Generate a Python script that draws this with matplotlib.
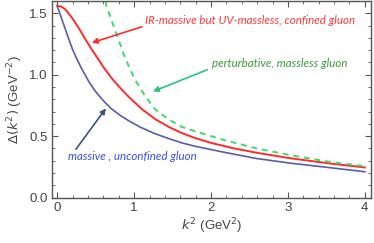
import matplotlib
matplotlib.use("Agg")
import matplotlib.pyplot as plt
from matplotlib.ticker import MultipleLocator

# Data
k2_red = [0.0, 0.05, 0.1, 0.19, 0.28, 0.36, 0.45, 0.54, 0.62, 0.71, 0.80, 0.93, 1.10, 1.27, 1.45, 1.62, 1.79, 2.0, 2.3, 2.59, 3.03, 3.55, 4.0]
delta_red = [1.56, 1.555, 1.535, 1.465, 1.38, 1.295, 1.205, 1.12, 1.045, 0.97, 0.905, 0.82, 0.72, 0.64, 0.575, 0.525, 0.485, 0.445, 0.40, 0.365, 0.32, 0.277, 0.245]

k2_blue = [0.0, 0.05, 0.1, 0.15, 0.2, 0.25, 0.317, 0.41, 0.49, 0.555, 0.62, 0.70, 0.816, 0.93, 1.077, 1.27, 1.45, 1.62, 1.79, 2.16, 2.59, 3.03, 3.55, 4.0]
delta_blue = [1.56, 1.47, 1.38, 1.29, 1.205, 1.135, 1.05, 0.945, 0.87, 0.82, 0.775, 0.725, 0.67, 0.625, 0.574, 0.52, 0.48, 0.445, 0.418, 0.37, 0.318, 0.28, 0.243, 0.21]

k2_green = [0.63, 0.64, 0.73, 0.80, 0.88, 1.01, 1.14, 1.27, 1.45, 1.62, 1.79, 2.16, 2.59, 3.03, 3.55, 4.0]
delta_green = [1.6, 1.56, 1.40, 1.28, 1.14, 0.96, 0.83, 0.72, 0.635, 0.575, 0.54, 0.47, 0.40, 0.345, 0.29, 0.255]

xticks = [0, 1, 2, 3, 4]
yticks = [0.0, 0.5, 1.0, 1.5]

label_red = "IR-massive but UV-massless, confined gluon"
label_green = "perturbative, massless gluon"
label_blue = "massive , unconfined gluon"

plt.rcParams['font.family'] = ['Liberation Sans', 'DejaVu Sans']

fig = plt.figure(figsize=(3.74, 2.43), dpi=100)
ax = fig.add_axes([0.138, 0.187, 0.854, 0.809])

ax.plot(k2_blue, delta_blue, color='#5b5ba8', lw=1.2)
ax.plot(k2_red, delta_red, color='#ff2a2a', lw=1.4)
ax.plot(k2_green, delta_green, color='#3fd86a', lw=1.4, dashes=(3, 2.5))

ax.set_xlim(-0.073, 4.08)
ax.set_ylim(0, 1.6)
ax.set_xticks(xticks)
ax.set_xticklabels([str(v) for v in xticks])
ax.set_yticks(yticks)
ax.set_yticklabels([f"{v:.1f}" for v in yticks])
ax.xaxis.set_minor_locator(MultipleLocator(0.2))
ax.yaxis.set_minor_locator(MultipleLocator(0.1))
ax.tick_params(which='both', direction='in', top=True, right=True, colors='#555555', labelcolor='#444444')
ax.tick_params(which='major', length=4, labelsize=9.5, pad=3)
ax.tick_params(which='minor', length=2)
for s in ax.spines.values():
    s.set_color('#555555')
    s.set_linewidth(1.0)

ax.set_xlabel(r"$k^2$ (GeV$^2$)", fontsize=9.5, color='#444444', labelpad=2)
ax.set_ylabel(r"$\Delta(k^2)$ (GeV$^{-2}$)", fontsize=9.5, color='#444444', labelpad=3)

tfont = dict(family='Lato', style='italic', fontsize=8.3, va='center', ha='left')
ax.text(1.14, 1.44, label_red, color='#ff3838', **tfont)
ax.text(2.01, 1.09, label_green, color='#3a9a3a', **tfont)
ax.text(0.14, 0.337, label_blue, color='#3a4ee0', **tfont)

akw = dict(lw=1.2, mutation_scale=8, shrinkA=0, shrinkB=0, arrowstyle='-|>')
ax.annotate('', xy=(0.45, 1.26), xytext=(1.10, 1.39), arrowprops=dict(color='#ff2a2a', **akw))
ax.annotate('', xy=(1.245, 0.864), xytext=(1.95, 1.04), arrowprops=dict(color='#2ec27a', **akw))
ax.annotate('', xy=(0.633, 0.726), xytext=(0.243, 0.393), arrowprops=dict(color='#3a5575', **akw))

fig.savefig("out.png", dpi=100)
